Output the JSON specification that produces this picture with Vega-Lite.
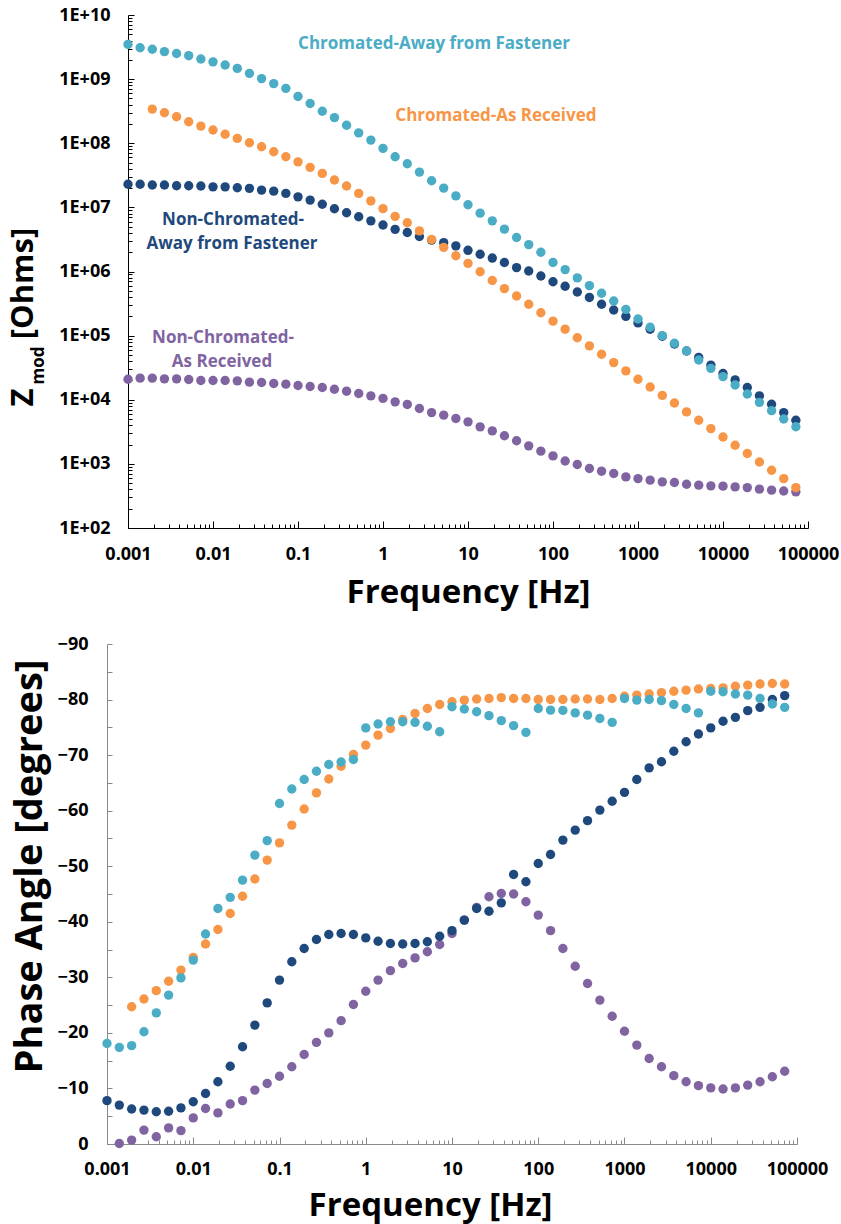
{
"$schema": "https://vega.github.io/schema/vega-lite/v6.json",
"background": "white",
"padding": {"left": 7, "top": 6, "right": 5, "bottom": 5},
"config": {
  "font": "Open Sans",
  "view": {"stroke": null},
  "axis": {"grid": false, "labelFont": "Open Sans", "labelFontWeight": "bold", "labelFontSize": 18, "labelColor": "black", "titleFont": "Open Sans", "titleFontWeight": "bold", "titleColor": "black", "labelOverlap": false, "labelFlush": false, "domainWidth": 1, "tickWidth": 1},
  "circle": {"size": 88, "opacity": 1}
},
"datasets": {
"eis": [
{"s":"NR","f":0.001,"z":20900,"p":null},
{"s":"NR","f":0.001389,"z":21700,"p":-0.1},
{"s":"NR","f":0.001931,"z":21700,"p":-0.7},
{"s":"NR","f":0.002683,"z":21200,"p":-2.5},
{"s":"NR","f":0.003728,"z":21200,"p":-1.3},
{"s":"NR","f":0.005179,"z":20700,"p":-2.9},
{"s":"NR","f":0.007197,"z":20000,"p":-2.4},
{"s":"NR","f":0.01,"z":20000,"p":-4.7},
{"s":"NR","f":0.01389,"z":20000,"p":-6.4},
{"s":"NR","f":0.01931,"z":19700,"p":-5.6},
{"s":"NR","f":0.02683,"z":18800,"p":-7.2},
{"s":"NR","f":0.03728,"z":18600,"p":-7.8},
{"s":"NR","f":0.05179,"z":17900,"p":-9.7},
{"s":"NR","f":0.07197,"z":17500,"p":-10.9},
{"s":"NR","f":0.1,"z":16700,"p":-12.2},
{"s":"NR","f":0.1389,"z":16100,"p":-13.9},
{"s":"NR","f":0.1931,"z":15500,"p":-16.1},
{"s":"NR","f":0.2683,"z":14600,"p":-18.3},
{"s":"NR","f":0.3728,"z":13600,"p":-20.0},
{"s":"NR","f":0.5179,"z":12500,"p":-22.2},
{"s":"NR","f":0.7197,"z":11500,"p":-25.1},
{"s":"NR","f":1,"z":10500,"p":-27.5},
{"s":"NR","f":1.389,"z":9270,"p":-29.5},
{"s":"NR","f":1.931,"z":8450,"p":-31.2},
{"s":"NR","f":2.683,"z":7310,"p":-32.5},
{"s":"NR","f":3.728,"z":6310,"p":-33.5},
{"s":"NR","f":5.179,"z":5750,"p":-34.6},
{"s":"NR","f":7.197,"z":5110,"p":-35.9},
{"s":"NR","f":10,"z":4520,"p":-37.9},
{"s":"NR","f":13.89,"z":3780,"p":-40.3},
{"s":"NR","f":19.31,"z":3270,"p":-42.6},
{"s":"NR","f":26.83,"z":2740,"p":-44.5},
{"s":"NR","f":37.28,"z":2290,"p":-45.1},
{"s":"NR","f":51.79,"z":1910,"p":-45.0},
{"s":"NR","f":71.97,"z":1580,"p":-43.6},
{"s":"NR","f":100,"z":1330,"p":-41.2},
{"s":"NR","f":138.9,"z":1110,"p":-38.4},
{"s":"NR","f":193.1,"z":977,"p":-35.2},
{"s":"NR","f":268.3,"z":847,"p":-32.0},
{"s":"NR","f":372.8,"z":769,"p":-28.9},
{"s":"NR","f":517.9,"z":708,"p":-25.9},
{"s":"NR","f":719.7,"z":627,"p":-23.0},
{"s":"NR","f":1000,"z":589,"p":-20.3},
{"s":"NR","f":1389,"z":557,"p":-17.8},
{"s":"NR","f":1931,"z":525,"p":-15.4},
{"s":"NR","f":2683,"z":513,"p":-13.9},
{"s":"NR","f":3728,"z":482,"p":-12.3},
{"s":"NR","f":5179,"z":466,"p":-11.2},
{"s":"NR","f":7197,"z":454,"p":-10.5},
{"s":"NR","f":10000,"z":449,"p":-10.1},
{"s":"NR","f":13890,"z":437,"p":-9.9},
{"s":"NR","f":19310,"z":427,"p":-10.1},
{"s":"NR","f":26830,"z":403,"p":-10.6},
{"s":"NR","f":37280,"z":389,"p":-11.2},
{"s":"NR","f":51790,"z":378,"p":-12.1},
{"s":"NR","f":71970,"z":366,"p":-13.1},
{"s":"NA","f":0.001,"z":2.29e7,"p":-7.8},
{"s":"NA","f":0.001389,"z":2.29e7,"p":-7.0},
{"s":"NA","f":0.001931,"z":2.23e7,"p":-6.3},
{"s":"NA","f":0.002683,"z":2.23e7,"p":-6.1},
{"s":"NA","f":0.003728,"z":2.17e7,"p":-5.8},
{"s":"NA","f":0.005179,"z":2.17e7,"p":-5.9},
{"s":"NA","f":0.007197,"z":2.15e7,"p":-6.5},
{"s":"NA","f":0.01,"z":2.09e7,"p":-7.6},
{"s":"NA","f":0.01389,"z":2.09e7,"p":-9.1},
{"s":"NA","f":0.01931,"z":2.02e7,"p":-11.2},
{"s":"NA","f":0.02683,"z":1.98e7,"p":-14.0},
{"s":"NA","f":0.03728,"z":1.86e7,"p":-17.5},
{"s":"NA","f":0.05179,"z":1.79e7,"p":-21.4},
{"s":"NA","f":0.07197,"z":1.65e7,"p":-25.4},
{"s":"NA","f":0.1,"z":1.46e7,"p":-29.5},
{"s":"NA","f":0.1389,"z":1.30e7,"p":-32.8},
{"s":"NA","f":0.1931,"z":1.12e7,"p":-35.2},
{"s":"NA","f":0.2683,"z":9.51e6,"p":-36.8},
{"s":"NA","f":0.3728,"z":8.24e6,"p":-37.7},
{"s":"NA","f":0.5179,"z":7.13e6,"p":-37.9},
{"s":"NA","f":0.7197,"z":6.17e6,"p":-37.7},
{"s":"NA","f":1,"z":5.30e6,"p":-37.1},
{"s":"NA","f":1.389,"z":4.54e6,"p":-36.5},
{"s":"NA","f":1.931,"z":4.05e6,"p":-36.1},
{"s":"NA","f":2.683,"z":3.51e6,"p":-36.0},
{"s":"NA","f":3.728,"z":3.09e6,"p":-36.1},
{"s":"NA","f":5.179,"z":2.82e6,"p":-36.4},
{"s":"NA","f":7.197,"z":2.51e6,"p":-37.4},
{"s":"NA","f":10,"z":2.14e6,"p":-38.4},
{"s":"NA","f":13.89,"z":1.86e6,"p":-40.3},
{"s":"NA","f":19.31,"z":1.62e6,"p":-42.4},
{"s":"NA","f":26.83,"z":1.38e6,"p":-41.9},
{"s":"NA","f":37.28,"z":1.15e6,"p":-43.4},
{"s":"NA","f":51.79,"z":1.02e6,"p":-48.5},
{"s":"NA","f":71.97,"z":8.51e5,"p":-47.2},
{"s":"NA","f":100,"z":6.92e5,"p":-50.5},
{"s":"NA","f":138.9,"z":5.89e5,"p":-52.1},
{"s":"NA","f":193.1,"z":4.79e5,"p":-54.7},
{"s":"NA","f":268.3,"z":3.94e5,"p":-56.5},
{"s":"NA","f":372.8,"z":3.09e5,"p":-58.2},
{"s":"NA","f":517.9,"z":2.51e5,"p":-60.1},
{"s":"NA","f":719.7,"z":2.00e5,"p":-61.7},
{"s":"NA","f":1000,"z":1.58e5,"p":-63.3},
{"s":"NA","f":1389,"z":1.26e5,"p":-65.6},
{"s":"NA","f":1931,"z":9.77e4,"p":-67.7},
{"s":"NA","f":2683,"z":7.41e4,"p":-68.8},
{"s":"NA","f":3728,"z":5.75e4,"p":-70.7},
{"s":"NA","f":5179,"z":4.57e4,"p":-72.4},
{"s":"NA","f":7197,"z":3.47e4,"p":-73.8},
{"s":"NA","f":10000,"z":2.57e4,"p":-74.9},
{"s":"NA","f":13890,"z":2.04e4,"p":-76.1},
{"s":"NA","f":19310,"z":1.55e4,"p":-76.8},
{"s":"NA","f":26830,"z":1.15e4,"p":-78.0},
{"s":"NA","f":37280,"z":8510,"p":-78.6},
{"s":"NA","f":51790,"z":6310,"p":-80.0},
{"s":"NA","f":71970,"z":4790,"p":-80.7},
{"s":"CR","f":0.001931,"z":3.41e8,"p":-24.7},
{"s":"CR","f":0.002683,"z":2.99e8,"p":-26.1},
{"s":"CR","f":0.003728,"z":2.59e8,"p":-27.6},
{"s":"CR","f":0.005179,"z":2.16e8,"p":-29.3},
{"s":"CR","f":0.007197,"z":1.85e8,"p":-31.3},
{"s":"CR","f":0.01,"z":1.61e8,"p":-33.6},
{"s":"CR","f":0.01389,"z":1.38e8,"p":-36.0},
{"s":"CR","f":0.01931,"z":1.19e8,"p":-38.6},
{"s":"CR","f":0.02683,"z":1.02e8,"p":-41.5},
{"s":"CR","f":0.03728,"z":8.83e7,"p":-44.6},
{"s":"CR","f":0.05179,"z":7.38e7,"p":-47.7},
{"s":"CR","f":0.07197,"z":6.17e7,"p":-51.1},
{"s":"CR","f":0.1,"z":5.13e7,"p":-54.2},
{"s":"CR","f":0.1389,"z":4.21e7,"p":-57.4},
{"s":"CR","f":0.1931,"z":3.39e7,"p":-60.3},
{"s":"CR","f":0.2683,"z":2.67e7,"p":-63.2},
{"s":"CR","f":0.3728,"z":2.15e7,"p":-65.7},
{"s":"CR","f":0.5179,"z":1.65e7,"p":-68.0},
{"s":"CR","f":0.7197,"z":1.26e7,"p":-70.1},
{"s":"CR","f":1,"z":9.55e6,"p":-71.8},
{"s":"CR","f":1.389,"z":7.24e6,"p":-73.6},
{"s":"CR","f":1.931,"z":5.75e6,"p":-74.8},
{"s":"CR","f":2.683,"z":4.30e6,"p":-76.4},
{"s":"CR","f":3.728,"z":3.16e6,"p":-77.5},
{"s":"CR","f":5.179,"z":2.38e6,"p":-78.4},
{"s":"CR","f":7.197,"z":1.76e6,"p":-79.1},
{"s":"CR","f":10,"z":1.34e6,"p":-79.6},
{"s":"CR","f":13.89,"z":9.91e5,"p":-79.9},
{"s":"CR","f":19.31,"z":7.24e5,"p":-80.1},
{"s":"CR","f":26.83,"z":5.41e5,"p":-80.2},
{"s":"CR","f":37.28,"z":4.15e5,"p":-80.35},
{"s":"CR","f":51.79,"z":3.09e5,"p":-80.2},
{"s":"CR","f":71.97,"z":2.27e5,"p":-80.2},
{"s":"CR","f":100,"z":1.68e5,"p":-80.0},
{"s":"CR","f":138.9,"z":1.26e5,"p":-80.0},
{"s":"CR","f":193.1,"z":9.25e4,"p":-80.0},
{"s":"CR","f":268.3,"z":6.92e4,"p":-80.1},
{"s":"CR","f":372.8,"z":5.13e4,"p":-80.1},
{"s":"CR","f":517.9,"z":3.80e4,"p":-80.0},
{"s":"CR","f":719.7,"z":2.82e4,"p":-80.2},
{"s":"CR","f":1000,"z":2.09e4,"p":-80.6},
{"s":"CR","f":1389,"z":1.58e4,"p":-80.8},
{"s":"CR","f":1931,"z":1.17e4,"p":-81.0},
{"s":"CR","f":2683,"z":8910,"p":-81.25},
{"s":"CR","f":3728,"z":6460,"p":-81.5},
{"s":"CR","f":5179,"z":4790,"p":-81.7},
{"s":"CR","f":7197,"z":3550,"p":-81.9},
{"s":"CR","f":10000,"z":2630,"p":-82.0},
{"s":"CR","f":13890,"z":1950,"p":-82.1},
{"s":"CR","f":19310,"z":1450,"p":-82.4},
{"s":"CR","f":26830,"z":1070,"p":-82.6},
{"s":"CR","f":37280,"z":794,"p":-82.8},
{"s":"CR","f":51790,"z":589,"p":-82.9},
{"s":"CR","f":71970,"z":427,"p":-82.8},
{"s":"CA","f":0.001,"z":3.49e9,"p":-18.1},
{"s":"CA","f":0.001389,"z":3.09e9,"p":-17.4},
{"s":"CA","f":0.001931,"z":2.92e9,"p":-17.7},
{"s":"CA","f":0.002683,"z":2.69e9,"p":-20.2},
{"s":"CA","f":0.003728,"z":2.51e9,"p":-23.6},
{"s":"CA","f":0.005179,"z":2.32e9,"p":-26.8},
{"s":"CA","f":0.007197,"z":2.06e9,"p":-29.9},
{"s":"CA","f":0.01,"z":1.86e9,"p":-33.1},
{"s":"CA","f":0.01389,"z":1.66e9,"p":-37.8},
{"s":"CA","f":0.01931,"z":1.47e9,"p":-42.4},
{"s":"CA","f":0.02683,"z":1.23e9,"p":-44.4},
{"s":"CA","f":0.03728,"z":1.02e9,"p":-47.5},
{"s":"CA","f":0.05179,"z":8.51e8,"p":-52.0},
{"s":"CA","f":0.07197,"z":7.18e8,"p":-54.6},
{"s":"CA","f":0.1,"z":5.37e8,"p":-61.3},
{"s":"CA","f":0.1389,"z":4.17e8,"p":-63.9},
{"s":"CA","f":0.1931,"z":3.16e8,"p":-65.6},
{"s":"CA","f":0.2683,"z":2.51e8,"p":-67.1},
{"s":"CA","f":0.3728,"z":1.91e8,"p":-68.3},
{"s":"CA","f":0.5179,"z":1.45e8,"p":-68.75},
{"s":"CA","f":0.7197,"z":1.12e8,"p":-69.2},
{"s":"CA","f":1,"z":8.32e7,"p":-74.9},
{"s":"CA","f":1.389,"z":6.17e7,"p":-75.6},
{"s":"CA","f":1.931,"z":4.79e7,"p":-76.0},
{"s":"CA","f":2.683,"z":3.55e7,"p":-76.0},
{"s":"CA","f":3.728,"z":2.60e7,"p":-75.9},
{"s":"CA","f":5.179,"z":2.00e7,"p":-75.2},
{"s":"CA","f":7.197,"z":1.51e7,"p":-74.2},
{"s":"CA","f":10,"z":1.10e7,"p":-78.7},
{"s":"CA","f":13.89,"z":8.13e6,"p":-78.3},
{"s":"CA","f":19.31,"z":6.17e6,"p":-77.8},
{"s":"CA","f":26.83,"z":4.57e6,"p":-77.1},
{"s":"CA","f":37.28,"z":3.39e6,"p":-76.2},
{"s":"CA","f":51.79,"z":2.63e6,"p":-75.3},
{"s":"CA","f":71.97,"z":2.00e6,"p":-74.1},
{"s":"CA","f":100,"z":1.38e6,"p":-78.4},
{"s":"CA","f":138.9,"z":1.07e6,"p":-78.1},
{"s":"CA","f":193.1,"z":7.94e5,"p":-78.05},
{"s":"CA","f":268.3,"z":6.03e5,"p":-77.6},
{"s":"CA","f":372.8,"z":4.57e5,"p":-77.2},
{"s":"CA","f":517.9,"z":3.47e5,"p":-76.6},
{"s":"CA","f":719.7,"z":2.57e5,"p":-75.9},
{"s":"CA","f":1000,"z":1.82e5,"p":-80.2},
{"s":"CA","f":1389,"z":1.35e5,"p":-79.9},
{"s":"CA","f":1931,"z":1.00e5,"p":-80.0},
{"s":"CA","f":2683,"z":7.59e4,"p":-79.8},
{"s":"CA","f":3728,"z":5.75e4,"p":-79.1},
{"s":"CA","f":5179,"z":4.17e4,"p":-78.4},
{"s":"CA","f":7197,"z":3.09e4,"p":-77.6},
{"s":"CA","f":10000,"z":2.29e4,"p":-81.5},
{"s":"CA","f":13890,"z":1.70e4,"p":-81.4},
{"s":"CA","f":19310,"z":1.23e4,"p":-81.0},
{"s":"CA","f":26830,"z":9120,"p":-80.8},
{"s":"CA","f":37280,"z":6760,"p":-80.2},
{"s":"CA","f":51790,"z":5010,"p":-79.2},
{"s":"CA","f":71970,"z":3800,"p":-78.6}
],
"labels": [
{"g":1,"s":"CA","f":3.98,"z":3.53e9,"t":"Chromated-Away from Fastener"},
{"g":1,"s":"CR","f":21.3,"z":2.66e8,"t":"Chromated-As Received"},
{"g":2,"s":"NA","f":0.01718,"z":6.46e6,"t":"Non-Chromated-"},
{"g":2,"s":"NA","f":0.01675,"z":2.71e6,"t":"Away from Fastener"},
{"g":2,"s":"NR","f":0.01312,"z":9.2e4,"t":"Non-Chromated-"},
{"g":2,"s":"NR","f":0.01276,"z":3.9e4,"t":"As Received"}
]
},
"spacing": 26,
"vconcat": [
{
  "width": 701,
  "height": 513,
  "encoding": {
    "x": {"field": "f", "type": "quantitative",
      "scale": {"type": "log", "domain": [0.001, 100000], "nice": false, "range": [21, 701]},
      "axis": {"title": "Frequency [Hz]", "titleFontSize": 33, "titleBaseline": "alphabetic", "titleY": 74,
        "tickCount": 100, "domainColor": "black", "tickColor": "black",
        "tickSize": {"condition": {"test": "abs(log(datum.value)/LN10 - round(log(datum.value)/LN10)) < 0.01", "value": -7}, "value": -4},
        "labelPadding": 24,
        "labelExpr": "abs(log(datum.value)/LN10 - round(log(datum.value)/LN10)) < 0.01 ? format(datum.value, '~r') : ''"}}
  },
  "layer": [
    {
      "data": {"name": "eis"},
      "transform": [{"filter": "isValid(datum.z)"}],
      "mark": {"type": "circle"},
      "encoding": {
        "y": {"field": "z", "type": "quantitative",
          "scale": {"type": "log", "domain": [100, 1e10], "nice": false},
          "axis": {"orient": "left", "offset": -21, "title": "Z", "titleFontSize": 31, "titleAngle": -90, "titleAlign": "center", "titleBaseline": "alphabetic", "titleX": -96, "titleY": 382,
            "tickCount": 100, "domainColor": "black", "tickColor": "black",
            "tickSize": {"condition": {"test": "abs(log(datum.value)/LN10 - round(log(datum.value)/LN10)) < 0.01", "value": -6}, "value": -4},
            "labelPadding": 24,
            "labelExpr": "abs(log(datum.value)/LN10 - round(log(datum.value)/LN10)) < 0.01 ? '1E+' + (round(log(datum.value)/LN10) < 10 ? '0' : '') + round(log(datum.value)/LN10) : ''"}},
        "color": {"field": "s", "type": "nominal", "scale": {"domain": ["NR", "NA", "CR", "CA"], "range": ["#8064A2", "#1F497D", "#F79646", "#4BACC6"]}, "legend": null}
      }
    },
    {
      "data": {"name": "labels"},
      "transform": [{"filter": "datum.g == 1"}],
      "mark": {"type": "text", "font": "Open Sans", "fontWeight": "bold", "fontSize": 17, "align": "center", "baseline": "middle"},
      "encoding": {
        "y": {"field": "z", "type": "quantitative",
          "scale": {"type": "log", "domain": [100, 1e10], "nice": false},
          "axis": {"orient": "left", "offset": -21, "title": "mod", "titleFontSize": 17, "titleAngle": -90, "titleAlign": "center", "titleBaseline": "alphabetic", "titleX": -85, "titleY": 350,
            "labels": false, "ticks": false, "domain": false}},
        "text": {"field": "t"},
        "color": {"field": "s", "type": "nominal", "legend": null}
      }
    },
    {
      "data": {"name": "labels"},
      "transform": [{"filter": "datum.g == 2"}],
      "mark": {"type": "text", "font": "Open Sans", "fontWeight": "bold", "fontSize": 17, "align": "center", "baseline": "middle"},
      "encoding": {
        "y": {"field": "z", "type": "quantitative",
          "scale": {"type": "log", "domain": [100, 1e10], "nice": false},
          "axis": {"orient": "left", "offset": -21, "title": "[Ohms]", "titleFontSize": 31, "titleAngle": -90, "titleAlign": "center", "titleBaseline": "alphabetic", "titleX": -96, "titleY": 268,
            "labels": false, "ticks": false, "domain": false}},
        "text": {"field": "t"},
        "color": {"field": "s", "type": "nominal", "legend": null}
      }
    }
  ],
  "resolve": {"axis": {"y": "independent"}}
},
{
  "width": 690,
  "height": 500,
  "data": {"name": "eis"},
  "transform": [{"filter": "isValid(datum.p)"}],
  "mark": {"type": "circle"},
  "encoding": {
    "x": {"field": "f", "type": "quantitative",
      "scale": {"type": "log", "domain": [0.001, 100000], "nice": false},
      "axis": {"title": "Frequency [Hz]", "titleFontSize": 33, "titleBaseline": "alphabetic", "titleAlign": "center", "titleX": 323, "titleY": 71,
        "tickCount": 100, "domainColor": "#898989", "tickColor": "#898989",
        "tickSize": {"condition": {"test": "abs(log(datum.value)/LN10 - round(log(datum.value)/LN10)) < 0.01", "value": -7}, "value": -4},
        "labelPadding": 23,
        "labelExpr": "abs(log(datum.value)/LN10 - round(log(datum.value)/LN10)) < 0.01 ? format(datum.value, '~r') : ''"}},
    "y": {"field": "p", "type": "quantitative",
      "scale": {"domain": [-90, 0], "reverse": true, "nice": false, "zero": false},
      "axis": {"title": "Phase Angle [degrees]", "titleFontSize": 38, "titleAngle": -90, "titleAlign": "center", "titleBaseline": "alphabetic", "titleX": -66, "titleY": 222,
        "values": [-90, -85, -80, -75, -70, -65, -60, -55, -50, -45, -40, -35, -30, -25, -20, -15, -10, -5, 0],
        "domainColor": "#898989", "tickColor": "#898989", "tickSize": -5, "labelPadding": 24,
        "labelExpr": "datum.value % 10 == 0 ? format(datum.value, 'd') : ''"}},
    "color": {"field": "s", "type": "nominal", "scale": {"domain": ["NR", "NA", "CR", "CA"], "range": ["#8064A2", "#1F497D", "#F79646", "#4BACC6"]}, "legend": null}
  }
}
]
}
